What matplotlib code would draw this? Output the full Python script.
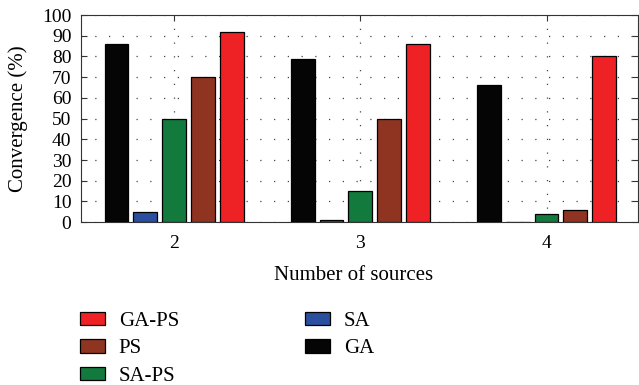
import numpy as np
import matplotlib
matplotlib.use("Agg")
import matplotlib.pyplot as plt
from matplotlib.patches import Patch

plt.rcParams['font.family'] = ['Liberation Serif', 'DejaVu Serif']

sources = [2, 3, 4]
ga = [86, 79, 66]
sa = [5, 1, 0.3]
sa_ps = [50, 15, 4]
ps = [70, 50, 6]
ga_ps = [92, 86, 80]

series = [("GA", ga, "#050505"), ("SA", sa, "#2b4f9e"), ("SA-PS", sa_ps, "#127a3c"),
          ("PS", ps, "#8f3420"), ("GA-PS", ga_ps, "#ee2224")]

fig = plt.figure(figsize=(6.39, 3.85), dpi=100)
ax = fig.add_axes([0.127, 0.423, 0.871, 0.538])

x = np.array(sources, dtype=float)
step = 0.155
width = 0.128
for i, (name, vals, col) in enumerate(series):
    ax.bar(x + (i - 2) * step, vals, width, color=col, edgecolor="black", linewidth=0.9, zorder=3)

ax.set_xlim(1.5, 4.49)
ax.set_ylim(0, 100)
ax.set_xticks(sources)
ax.set_yticks(range(0, 101, 10))
ax.tick_params(direction="in", top=True, right=True, labelsize=14, length=4, color="#333333")
ax.tick_params(axis="x", pad=9)
ax.tick_params(axis="y", pad=7)
ax.grid(True, linestyle=(0, (1, 10)), color="#444444", linewidth=0.9)
for s in ax.spines.values():
    s.set_color("#333333")
ax.set_xlabel("Number of sources", fontsize=15)
ax.set_ylabel("Convergence (%)", fontsize=15)
ax.xaxis.set_label_coords(0.489, -0.21)
ax.yaxis.set_label_coords(-0.095, 0.5)

order = ["GA-PS", "PS", "SA-PS", "SA", "GA"]
cmap = {n: c for n, _, c in series}
handles = [Patch(facecolor=cmap[n], edgecolor="black", linewidth=0.9, label=n) for n in order]
fig.legend(handles=handles, ncol=2, loc="upper left", bbox_to_anchor=(0.125, 0.19),
           frameon=False, fontsize=15, handlelength=1.2, handleheight=0.62,
           columnspacing=6.05, labelspacing=0.4, handletextpad=0.67,
           borderpad=0, borderaxespad=0)

fig.savefig("out.png", dpi=100)
